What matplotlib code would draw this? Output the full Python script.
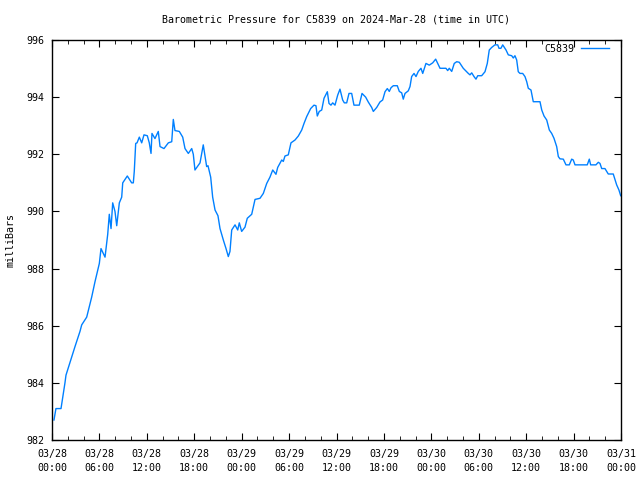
import matplotlib
matplotlib.use("Agg")
import matplotlib.pyplot as plt
import matplotlib.dates as mdates
import pandas as pd

station = "C5839"
start = "2024-03-28 00:00"

# hours since start, pressure in mb
hours = [0.25, 0.5, 1.14, 1.64, 1.77, 2.49, 2.91, 3.54, 3.76, 4.39, 5.02, 5.44, 5.99, 6.2, 6.71,
         7.05, 7.25, 7.47, 7.68, 7.97, 8.19, 8.52, 8.82, 8.95, 9.53, 10.08, 10.29, 10.41, 10.59,
         10.76, 11.05, 11.35, 11.64, 12.06, 12.31, 12.53, 12.65, 13.03, 13.45, 13.67, 14.17,
         14.72, 15.15, 15.35, 15.56, 16.11, 16.54, 16.83, 17.25, 17.68, 17.88, 18.09, 18.73,
         19.14, 19.57, 19.74, 20.08, 20.33, 20.63, 21.0, 21.26, 21.68, 22.02, 22.31, 22.52,
         22.74, 23.16, 23.5, 23.7, 24.0, 24.42, 24.71, 25.27, 25.69, 26.32, 26.74, 27.17,
         27.58, 27.93, 28.34, 28.56, 29.07, 29.27, 29.48, 29.9, 30.24, 30.75, 31.17, 31.6,
         31.89, 32.23, 32.73, 33.15, 33.4, 33.57, 33.82, 34.13, 34.42, 34.84, 35.05, 35.3,
         35.52, 35.81, 36.15, 36.44, 36.78, 36.99, 37.29, 37.58, 37.92, 38.21, 38.88, 39.23,
         39.69, 40.02, 40.45, 40.66, 41.09, 41.5, 41.84, 42.14, 42.43, 42.68, 42.9, 43.19,
         43.69, 43.95, 44.25, 44.45, 44.67, 45.08, 45.3, 45.51, 45.81, 46.06, 46.35, 46.69,
         46.91, 47.32, 47.74, 48.17, 48.55, 48.81, 49.1, 49.85, 50.07, 50.27, 50.58, 50.9,
         51.21, 51.54, 52.04, 52.68, 52.89, 53.11, 53.4, 53.65, 53.87, 54.37, 54.79, 55.08,
         55.33, 55.64, 56.05, 56.4, 56.56, 56.81, 57.03, 57.45, 57.74, 58.17, 58.37, 58.58,
         58.8, 59.0, 59.22, 59.56, 59.85, 60.07, 60.27, 60.61, 60.9, 61.75, 61.97, 62.26,
         62.6, 62.93, 63.23, 63.52, 63.86, 64.07, 64.28, 64.7, 65.04, 65.46, 65.76, 65.96,
         66.18, 67.73, 67.99, 68.16, 68.83, 69.13, 69.34, 69.56, 69.97, 70.39, 71.02, 71.45,
         71.74, 71.96]
pressure = [982.7, 983.1, 983.1, 984.0, 984.27, 984.9, 985.27, 985.8, 986.03, 986.3, 987.0,
            987.54, 988.18, 988.7, 988.4, 989.2, 989.9, 989.4, 990.3, 990.0, 989.5, 990.3,
            990.5, 991.0, 991.24, 991.0, 991.0, 991.4, 992.38, 992.4, 992.6, 992.4, 992.68,
            992.65, 992.4, 992.03, 992.73, 992.55, 992.8, 992.27, 992.2, 992.4, 992.44,
            993.22, 992.83, 992.8, 992.6, 992.2, 992.03, 992.2, 992.0, 991.45, 991.7, 992.33,
            991.57, 991.6, 991.2, 990.5, 990.05, 989.85, 989.4, 989.0, 988.7, 988.42, 988.6,
            989.35, 989.53, 989.35, 989.6, 989.3, 989.45, 989.76, 989.9, 990.42, 990.46,
            990.63, 990.98, 991.2, 991.45, 991.3, 991.54, 991.8, 991.75, 991.94, 991.98,
            992.4, 992.5, 992.64, 992.85, 993.08, 993.32, 993.6, 993.72, 993.7, 993.34,
            993.5, 993.55, 993.96, 994.19, 993.78, 993.72, 993.8, 993.72, 994.07, 994.28,
            993.9, 993.8, 993.8, 994.13, 994.13, 993.72, 993.72, 994.13, 994.0, 993.83,
            993.64, 993.5, 993.64, 993.83, 993.9, 994.19, 994.3, 994.2, 994.33, 994.4, 994.4,
            994.2, 994.15, 993.93, 994.13, 994.22, 994.37, 994.72, 994.83, 994.72, 994.9,
            995.01, 994.83, 995.18, 995.12, 995.2, 995.33, 995.18, 995.01, 995.01, 994.93,
            995.01, 994.9, 995.18, 995.24, 995.22, 995.01, 994.83, 994.78, 994.85, 994.72,
            994.63, 994.75, 994.75, 994.89, 995.18, 995.65, 995.74, 995.83, 995.83, 995.71,
            995.71, 995.83, 995.65, 995.48, 995.45, 995.37, 995.45, 995.3, 994.89, 994.83,
            994.83, 994.72, 994.54, 994.31, 994.25, 993.84, 993.84, 993.55, 993.34, 993.2,
            992.85, 992.73, 992.56, 992.27, 991.92, 991.84, 991.83, 991.63, 991.63, 991.83,
            991.8, 991.63, 991.63, 991.83, 991.63, 991.63, 991.72, 991.68, 991.5, 991.5,
            991.31, 991.31, 990.93, 990.75, 990.55]

t0 = pd.Timestamp(start)
times = t0 + pd.to_timedelta(hours, unit="h")

plt.rcParams['font.family'] = 'DejaVu Sans Mono'
plt.rcParams['font.size'] = 7.2

fig = plt.figure(figsize=(6.4, 4.8), dpi=100)
ax = fig.add_axes([52 / 640, 40 / 480, 569 / 640, 400 / 480])

ax.plot(times, pressure, color='#0080ff', linewidth=1, label=station)

ax.set_xlim(t0, t0 + pd.Timedelta(hours=72))
ax.set_ylim(982, 996)
ax.set_yticks(range(982, 997, 2))
ax.xaxis.set_major_locator(mdates.HourLocator(byhour=[0, 6, 12, 18]))
ax.xaxis.set_minor_locator(mdates.HourLocator(interval=2))
ax.xaxis.set_major_formatter(mdates.DateFormatter('%m/%d\n%H:%M'))

ax.tick_params(which='both', direction='in', top=True, right=True, colors='black')
ax.tick_params(which='major', length=5)
ax.tick_params(which='minor', length=3)
ax.tick_params(axis='x', pad=6.5)
ax.tick_params(axis='y', pad=5.5)
for lbl in ax.get_xticklabels():
    lbl.set_linespacing(1.45)
for s in ax.spines.values():
    s.set_linewidth(1)

# axis label and title placed where the original has them
fig.text(11 / 640, 0.5, 'milliBars', rotation=90, ha='center', va='center')
fig.text(336 / 640, 1 - 20 / 480, 'Barometric Pressure for C5839 on 2024-Mar-28 (time in UTC)',
         ha='center', va='center')

leg = ax.legend(loc='center right', bbox_to_anchor=((609 - 52) / 569, 1 - 9 / 400),
                frameon=False, markerfirst=False, handlelength=2.8, handletextpad=0.7,
                borderpad=0, borderaxespad=0)

fig.savefig('out.png', dpi=100)
